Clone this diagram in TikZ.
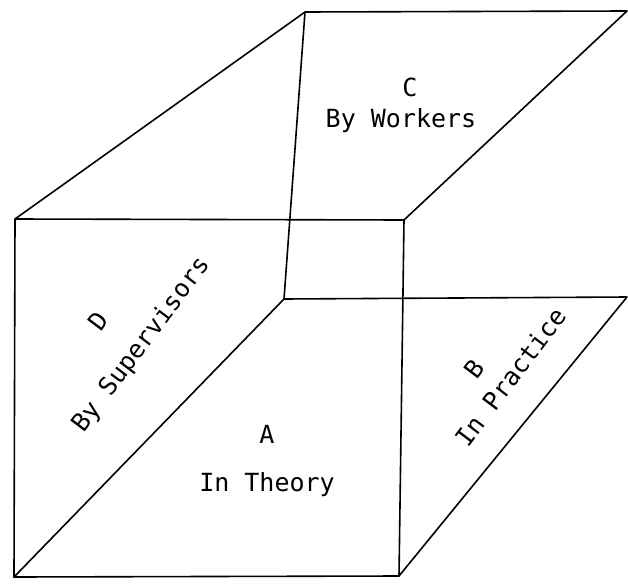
\documentclass[tikz,border=0pt]{standalone}
\usepackage{fontspec}
\newfontfamily\typ{DejaVu Sans Mono}
\begin{document}
\begin{tikzpicture}[x=1pt,y=-1pt,
  edge/.style={line width=1.6pt, line cap=round, line join=round},
  lbl/.style={font=\typ\fontsize{25}{30}\selectfont, inner sep=0pt}]
\useasboundingbox (0,0) rectangle (628,583);
\coordinate (ftl) at (15,219);
\coordinate (ftr) at (404,220);
\coordinate (fbl) at (14,577);
\coordinate (fbr) at (399,576);
\coordinate (btl) at (305,12);
\coordinate (btr) at (627,11);
\coordinate (bbl) at (284,299);
\coordinate (bbr) at (627,297);
\draw[edge] (ftl) -- (ftr) -- (fbr) -- (fbl) -- cycle;
\draw[edge] (ftl) -- (btl) -- (btr) -- (ftr);
\draw[edge] (btl) -- (bbl) -- (bbr) -- (fbr);
\draw[edge] (fbl) -- (bbl);
\node[lbl, anchor=base] (c) at (410,97) {C};
\node[lbl, anchor=base] (cw) at (401,128) {By Workers};
\node[lbl, anchor=base] (a) at (267,443) {A};
\node[lbl, anchor=base] (at) at (267,491) {In Theory};
\node[lbl, rotate=53, align=center] (d) at (123,331) {D\hspace*{14pt}\\[17pt]By Supervisors};
\node[lbl, rotate=53, align=center] (b) at (497,367) {B\hspace*{31pt}\\[4pt]In Practice};
\end{tikzpicture}
\end{document}
